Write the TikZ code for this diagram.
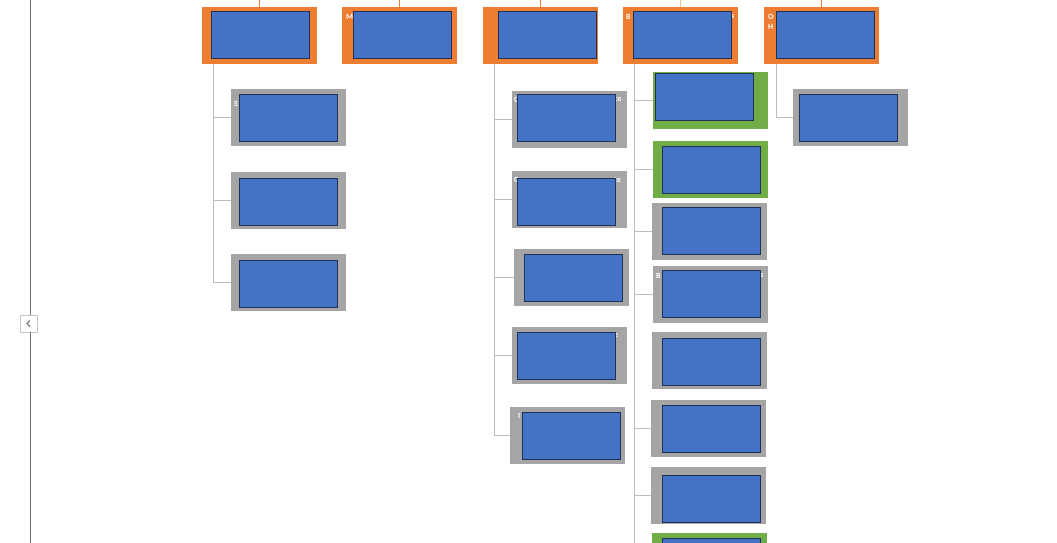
\documentclass[tikz,border=0pt]{standalone}
\usepackage{fontspec}
\setmainfont{Carlito}
\usetikzlibrary{positioning}
\definecolor{accentorange}{HTML}{ED7D31}
\definecolor{accentgray}{HTML}{A5A5A5}
\definecolor{accentgreen}{HTML}{70AD47}
\definecolor{accentblue}{HTML}{4472C4}
\definecolor{navyedge}{HTML}{1F3157}
\definecolor{linkgray}{HTML}{BDBDBD}
\definecolor{railgray}{HTML}{6E6E6E}

\begin{document}
\begin{tikzpicture}[x=1pt, y=-1pt,
        card/.style={rectangle, inner sep=0pt, outer sep=0pt, anchor=north west, minimum width=115pt, minimum height=57pt},
        head/.style={card, fill=accentorange},
        member/.style={card, fill=accentgray},
        lead/.style={card, fill=accentgreen},
        cover/.style={rectangle, inner sep=0pt, outer sep=0pt, anchor=north west, minimum width=98.5pt, minimum height=47.5pt, fill=accentblue, draw=navyedge, line width=0.8pt},
        link/.style={draw=linkgray, line width=1pt},
        toplink/.style={draw=accentorange, line width=1pt},
        rail/.style={draw=railgray, line width=0.8pt},
        peek/.style={text=white, font=\fontsize{8}{9}\selectfont\bfseries, inner sep=0pt, anchor=west}
    ]
        \clip (0,0) rectangle (1057,543);
        \fill[white] (0,0) rectangle (1057,543);
        \coordinate (topedge) at (0,0);

        % side rail with fold button
        \node[draw=gray!45, fill=white, minimum size=17pt, inner sep=0pt] (fold) at (28.5,323.5) {};
        \coordinate (railtop) at (30.5,0);
        \coordinate (railbot) at (30.5,543);
        \draw[rail] (railtop) -- (railtop |- fold.north);
        \draw[rail] (railbot |- fold.south) -- (railbot);
        \draw[gray, line width=1.3pt] ([xshift=1.5pt,yshift=3pt]fold.center) -- ([xshift=-1.5pt]fold.center) -- ([xshift=1.5pt,yshift=-3pt]fold.center);

        % top row
        \node[head] (dept1) at (202,7) {};
        \node[head] (dept2) at (342,7) {};
        \node[head] (dept3) at (483,7) {};
        \node[head] (dept4) at (623,7) {};
        \node[head] (dept5) at (764,7) {};

        \draw[toplink] (dept1.north) -- (dept1.north |- topedge);
        \draw[toplink] (dept2.north) -- (dept2.north |- topedge);
        \draw[toplink] (dept3.north) -- (dept3.north |- topedge);
        \draw[toplink, draw=accentorange!50] (dept4.north) -- (dept4.north |- topedge);
        \draw[toplink] (dept5.north) -- (dept5.north |- topedge);

        % first column
        \node[member] (dept1a) at (231,89) {};
        \node[member] (dept1b) at (231,172) {};
        \node[member] (dept1c) at (231,254) {};

        % third column
        \node[member] (dept3a) at (512,91) {};
        \node[member] (dept3b) at (512,171) {};
        \node[member] (dept3c) at (514,249) {};
        \node[member] (dept3d) at (512,327) {};
        \node[member] (dept3e) at (510,407) {};

        % fourth column
        \node[lead] (dept4a) at (653,72) {};
        \node[lead] (dept4b) at (653,141) {};
        \node[member] (dept4c) at (652,203) {};
        \node[member] (dept4d) at (653,266) {};
        \node[member] (dept4e) at (652,332) {};
        \node[member] (dept4f) at (651,400) {};
        \node[member] (dept4g) at (651,467) {};
        \node[lead] (dept4h) at (652,533) {};

        % fifth column
        \node[member] (dept5a) at (793,89) {};

        % connectors
        \draw[link] ([xshift=11pt]dept1.south west) |- (dept1a.west);
        \draw[link] ([xshift=11pt]dept1.south west) |- (dept1b.west);
        \draw[link] ([xshift=11pt]dept1.south west) |- (dept1c.west);

        \draw[link] ([xshift=11pt]dept3.south west) |- (dept3a.west);
        \draw[link] ([xshift=11pt]dept3.south west) |- (dept3b.west);
        \draw[link] ([xshift=11pt]dept3.south west) |- (dept3c.west);
        \draw[link] ([xshift=11pt]dept3.south west) |- (dept3d.west);
        \draw[link] ([xshift=11pt]dept3.south west) |- (dept3e.west);

        \draw[link] ([xshift=11pt]dept4.south west) |- (dept4a.west);
        \draw[link] ([xshift=11pt]dept4.south west) |- (dept4b.west);
        \draw[link] ([xshift=11pt]dept4.south west) |- (dept4c.west);
        \draw[link] ([xshift=11pt]dept4.south west) |- (dept4d.west);
        \draw[link] ([xshift=11pt]dept4.south west) |- (dept4f.west);
        \draw[link] ([xshift=11pt]dept4.south west) |- (dept4g.west);
        \draw[link] ([xshift=11pt]dept4.south west) |- (dept4h.west);

        \draw[link] ([xshift=12pt]dept5.south west) |- (dept5a.west);

        % text peeking out behind the covers
        \node[peek] (peek2) at (346,17) {M};
        \node[peek] (peek4a) at (626,17) {B};
        \node[peek] (peek4b) at (731,17) {s};
        \node[peek] (peek5a) at (768,17) {O};
        \node[peek] (peek5b) at (768,27) {H};
        \node[peek] (peek1a) at (234,104) {S};
        \node[peek] (peek1b) at (336,104) {t};
        \node[peek] (peek3a) at (514,100) {C};
        \node[peek] (peek3b) at (614,100) {ce};
        \node[peek] (peek3c) at (514,180) {C};
        \node[peek] (peek3d) at (614,180) {te};
        \node[peek] (peek3e) at (614,336) {e};
        \node[peek] (peek3f) at (518,416) {I};
        \node[peek] (peek4c) at (656,276) {B};
        \node[peek] (peek4d) at (760,276) {s};

        % covers
        \node[cover] (dept1top) at (211,11) {};
        \node[cover] (dept2top) at (353,11) {};
        \node[cover] (dept3top) at (498,11) {};
        \node[cover] (dept4top) at (633,11) {};
        \node[cover] (dept5top) at (776,11) {};

        \node[cover] (dept1atop) at (239,94) {};
        \node[cover] (dept1btop) at (239,178) {};
        \node[cover] (dept1ctop) at (239,260) {};

        \node[cover] (dept3atop) at (517,94) {};
        \node[cover] (dept3btop) at (517,178) {};
        \node[cover] (dept3ctop) at (524,254) {};
        \node[cover] (dept3dtop) at (517,332) {};
        \node[cover] (dept3etop) at (522,412) {};

        \node[cover] (dept4atop) at (655,73) {};
        \node[cover] (dept4btop) at (662,146) {};
        \node[cover] (dept4ctop) at (662,207) {};
        \node[cover] (dept4dtop) at (662,270) {};
        \node[cover] (dept4etop) at (662,338) {};
        \node[cover] (dept4ftop) at (662,405) {};
        \node[cover] (dept4gtop) at (662,475) {};
        \node[cover] (dept4htop) at (662,538) {};

        \node[cover] (dept5atop) at (799,94) {};
    \end{tikzpicture}
\end{document}
